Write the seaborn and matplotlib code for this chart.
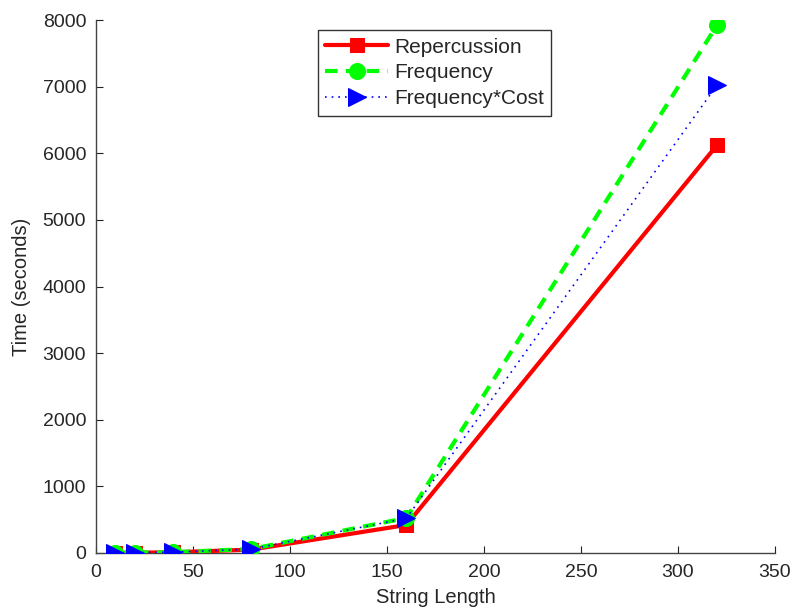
import matplotlib
matplotlib.use("Agg")
import matplotlib.pyplot as plt
import seaborn as sns
import pandas as pd

string_length = [10, 20, 40, 80, 160, 320]
repercussion = [2, 4, 10, 50, 420, 6120]
frequency = [2, 5, 12, 60, 525, 7920]
freq_cost = [2, 5, 12, 58, 520, 7020]

sns.set_style("white")
plt.rcParams['font.family'] = ['Liberation Sans', 'DejaVu Sans']

df = pd.concat([
    pd.DataFrame({"x": string_length, "y": repercussion, "s": "Repercussion"}),
    pd.DataFrame({"x": string_length, "y": frequency, "s": "Frequency"}),
    pd.DataFrame({"x": string_length, "y": freq_cost, "s": "Frequency*Cost"}),
])

fig = plt.figure(figsize=(7.99, 6.11), dpi=100)
ax = fig.add_axes([0.120, 0.095, 0.850, 0.872])

styles = {
    "Repercussion": dict(color="#ff0000", ls="-", marker="s", lw=3, ms=10),
    "Frequency": dict(color="#00ff00", ls=(0, (3, 2)), marker="o", lw=3, ms=11.5),
    "Frequency*Cost": dict(color="#0000ff", ls=(0, (1, 3)), marker=">", lw=1.2, ms=13),
}
for name in ["Repercussion", "Frequency", "Frequency*Cost"]:
    st = styles[name]
    sub = df[df.s == name]
    sns.lineplot(data=sub, x="x", y="y", ax=ax, color=st["color"], linestyle=st["ls"],
                 linewidth=st["lw"], marker=st["marker"], markersize=st["ms"],
                 markeredgecolor=st["color"], label=name, zorder=3)

ax.set_xlim(0, 350)
ax.set_ylim(0, 8000)
ax.set_xticks(range(0, 351, 50))
ax.set_yticks(range(0, 8001, 1000))
ax.set_xlabel("String Length", fontsize=14.5, labelpad=5)
ax.set_ylabel("Time (seconds)", fontsize=14.5, labelpad=8)
ax.tick_params(axis="both", direction="in", length=5, labelsize=14, color="#222222",
               bottom=True, left=True)
ax.tick_params(axis="y", pad=7)
ax.tick_params(axis="x", pad=8)
for side in ["top", "right"]:
    ax.spines[side].set_visible(False)
for side in ["left", "bottom"]:
    ax.spines[side].set_color("#444444")
    ax.spines[side].set_linewidth(1)

leg = ax.legend(loc="upper left", bbox_to_anchor=(0.327, 0.981), borderaxespad=0,
                fontsize=15, frameon=True,
                fancybox=False, edgecolor="black", handlelength=3.0, borderpad=0.35,
                labelspacing=0.33, handletextpad=0.3)
leg.get_frame().set_linewidth(1)

fig.savefig("out.png", dpi=100)
